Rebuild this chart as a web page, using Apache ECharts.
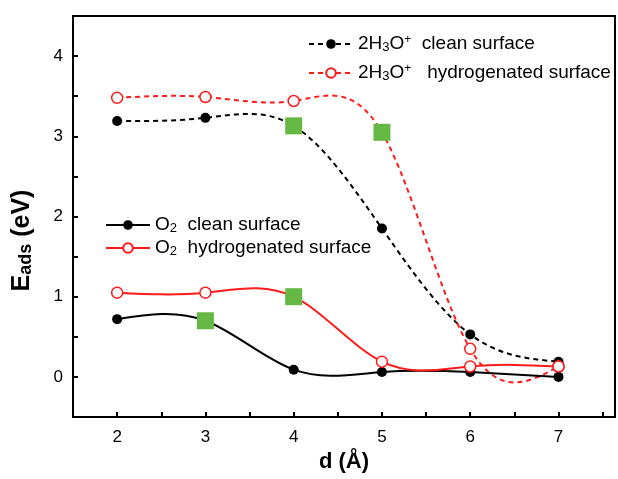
<!DOCTYPE html>
<html>
<head>
<meta charset="utf-8">
<script src="https://cdn.jsdelivr.net/npm/echarts@6/dist/echarts.min.js"></script>
<style>
  html, body { margin: 0; padding: 0; background: #fff; }
  #eads-chart { width: 618px; height: 479px; }
</style>
</head>
<body>
<div id="eads-chart"></div>
<script>
var dist = [2, 3, 4, 5, 6, 7];
var h3oClean = [3.19, 3.23, 3.13, 1.85, 0.53, 0.19];
var h3oHyd = [3.48, 3.49, 3.44, 3.05, 0.35, 0.13];
var o2Clean = [0.72, 0.70, 0.09, 0.06, 0.06, 0.00];
var o2Hyd = [1.05, 1.05, 1.00, 0.19, 0.13, 0.13];
// green squares
var markX = [3, 4, 4, 5];
var markY = [0.70, 1.00, 3.13, 3.05];

var names = {
  h3oClean: '2H3O+ clean surface',
  h3oHyd: '2H3O+ hydrogenated surface',
  o2Clean: 'O2 clean surface',
  o2Hyd: 'O2 hydrogenated surface'
};
var legendText = {};
legendText[names.h3oClean] = '2H{s|3}O{p|+}  clean surface';
legendText[names.h3oHyd] = '2H{s|3}O{p|+}   hydrogenated surface';
legendText[names.o2Clean] = 'O{s|2}  clean surface';
legendText[names.o2Hyd] = 'O{s|2}  hydrogenated surface';

var RED = '#ff1a1a';
var DASH = [5, 4];

function pairs(xs, ys) {
  var out = [];
  for (let i = 0; i < xs.length; i++) {
    out.push([xs[i], ys[i]]);
  }
  return out;
}

// natural cubic spline through pixel points -> svg path of bezier segments
function splinePath(pts) {
  var n = pts.length - 1;
  var h = [], M = [];
  for (let i = 0; i < n; i++) h.push(pts[i + 1][0] - pts[i][0]);
  // tridiagonal solve for second derivatives, M0 = Mn = 0
  var a = [], b = [], c = [], d = [];
  for (let i = 1; i < n; i++) {
    a.push(h[i - 1]);
    b.push(2 * (h[i - 1] + h[i]));
    c.push(h[i]);
    d.push(6 * ((pts[i + 1][1] - pts[i][1]) / h[i] - (pts[i][1] - pts[i - 1][1]) / h[i - 1]));
  }
  var m = b.length;
  for (let i = 1; i < m; i++) {
    var w = a[i] / b[i - 1];
    b[i] -= w * c[i - 1];
    d[i] -= w * d[i - 1];
  }
  var inner = new Array(m);
  for (let i = m - 1; i >= 0; i--) {
    inner[i] = (d[i] - (i < m - 1 ? c[i] * inner[i + 1] : 0)) / b[i];
  }
  M = [0].concat(inner, [0]);
  var s = [];
  for (let i = 0; i < n; i++) {
    s.push((pts[i + 1][1] - pts[i][1]) / h[i] - h[i] * (2 * M[i] + M[i + 1]) / 6);
  }
  s.push((pts[n][1] - pts[n - 1][1]) / h[n - 1] + h[n - 1] * (M[n - 1] + 2 * M[n]) / 6);
  var path = 'M' + pts[0][0] + ' ' + pts[0][1];
  for (let i = 0; i < n; i++) {
    var k = h[i] / 3;
    path += ' C' + (pts[i][0] + k) + ' ' + (pts[i][1] + s[i] * k) + ' ' +
      (pts[i + 1][0] - k) + ' ' + (pts[i + 1][1] - s[i + 1] * k) + ' ' +
      pts[i + 1][0] + ' ' + pts[i + 1][1];
  }
  return path;
}

function curveSeries(ys, color, dashed) {
  return {
    type: 'custom',
    data: pairs(dist, ys),
    silent: true,
    z: 2,
    renderItem: function (params, api) {
      if (params.dataIndex !== 0) return null;
      var pts = [];
      for (let i = 0; i < dist.length; i++) pts.push(api.coord([dist[i], ys[i]]));
      return {
        type: 'path',
        shape: { pathData: splinePath(pts) },
        style: { fill: null, stroke: color, lineWidth: 2, lineDash: dashed ? DASH : null }
      };
    }
  };
}

function pointSeries(name, data, color, open) {
  return {
    name: name,
    type: 'line',
    data: pairs(dist, data),
    symbol: 'circle',
    symbolSize: open ? 11 : 10,
    showSymbol: true,
    lineStyle: { opacity: 0 },
    itemStyle: {
      color: open ? '#fff' : color,
      borderColor: color,
      borderWidth: open ? 1.5 : 0
    },
    z: 3
  };
}

function legendItem(name, color, dashed) {
  return {
    name: name,
    lineStyle: { color: color, width: 2, opacity: 1, type: dashed ? DASH : 'solid' }
  };
}

var font = 'Liberation Sans, Arial, sans-serif';
var richSub = {
  s: { fontFamily: font, fontSize: 13, color: '#000', verticalAlign: 'bottom', lineHeight: 20 },
  p: { fontFamily: font, fontSize: 12, color: '#000', verticalAlign: 'top', lineHeight: 20 }
};

var chartDiv = document.getElementById('eads-chart');
var chart = echarts.init(chartDiv, null, { renderer: 'canvas' });

var option = {
  animation: false,
  backgroundColor: '#fff',
  textStyle: { fontFamily: font },
  grid: {
    left: 73,
    right: 1,
    top: 16,
    bottom: 62,
    show: true,
    borderColor: '#000',
    borderWidth: 2
  },
  legend: [
    {
      data: [legendItem(names.h3oClean, '#000', true), legendItem(names.h3oHyd, RED, true)],
      orient: 'vertical',
      left: 303,
      top: 29,
      itemWidth: 44,
      itemHeight: 12,
      itemGap: 9,
      formatter: function (n) { return legendText[n]; },
      textStyle: { fontFamily: font, fontSize: 19, color: '#000', lineHeight: 20, rich: richSub }
    },
    {
      data: [legendItem(names.o2Clean, '#000', false), legendItem(names.o2Hyd, RED, false)],
      orient: 'vertical',
      left: 100,
      top: 210,
      itemWidth: 44,
      itemHeight: 12,
      itemGap: 3,
      formatter: function (n) { return legendText[n]; },
      textStyle: { fontFamily: font, fontSize: 19, color: '#000', lineHeight: 20, rich: richSub }
    }
  ],
  xAxis: {
    type: 'value',
    min: 1.5,
    max: 7.64,
    interval: 0.5,
    name: 'd (Å)',
    nameLocation: 'middle',
    nameGap: 31,
    nameTextStyle: { fontFamily: font, fontSize: 22, fontWeight: 'bold', color: '#000' },
    axisLine: { show: true, onZero: false, lineStyle: { color: '#000', width: 2 } },
    axisTick: { show: true, inside: true, length: 5, lineStyle: { color: '#000', width: 2 } },
    axisLabel: {
      margin: 12,
      fontFamily: font,
      fontSize: 17,
      color: '#000',
      formatter: function (v) { return Number.isInteger(v) ? String(v) : ''; }
    },
    splitLine: { show: false }
  },
  yAxis: {
    type: 'value',
    min: -0.5,
    max: 4.5,
    interval: 0.5,
    name: 'E{s|ads} (eV)',
    nameLocation: 'middle',
    nameRotate: 90,
    nameGap: 38,
    nameTextStyle: {
      fontFamily: font, fontSize: 25, fontWeight: 'bold', color: '#000',
      padding: [0, 48, 0, 0],
      rich: { s: { fontFamily: font, fontSize: 18, fontWeight: 'bold', color: '#000', verticalAlign: 'bottom', lineHeight: 22 } }
    },
    axisLine: { show: true, onZero: false, lineStyle: { color: '#000', width: 2 } },
    axisTick: { show: true, inside: true, length: 5, lineStyle: { color: '#000', width: 2 } },
    axisLabel: {
      margin: 10,
      fontFamily: font,
      fontSize: 17,
      color: '#000',
      formatter: function (v) { return Number.isInteger(v) ? String(v) : ''; }
    },
    splitLine: { show: false }
  },
  series: [
    curveSeries(h3oClean, '#000', true),
    curveSeries(h3oHyd, RED, true),
    curveSeries(o2Clean, '#000', false),
    curveSeries(o2Hyd, RED, false),
    pointSeries(names.h3oClean, h3oClean, '#000', false),
    pointSeries(names.h3oHyd, h3oHyd, RED, true),
    pointSeries(names.o2Clean, o2Clean, '#000', false),
    pointSeries(names.o2Hyd, o2Hyd, RED, true),
    {
      name: 'marks',
      type: 'scatter',
      data: pairs(markX, markY),
      symbol: 'rect',
      symbolSize: 17,
      itemStyle: { color: '#66b845', opacity: 1 },
      z: 5
    }
  ]
};

chart.setOption(option);

window.addEventListener('resize', function () {
  setTimeout(function () { chart.resize(); }, 200);
});
</script>
</body>
</html>
